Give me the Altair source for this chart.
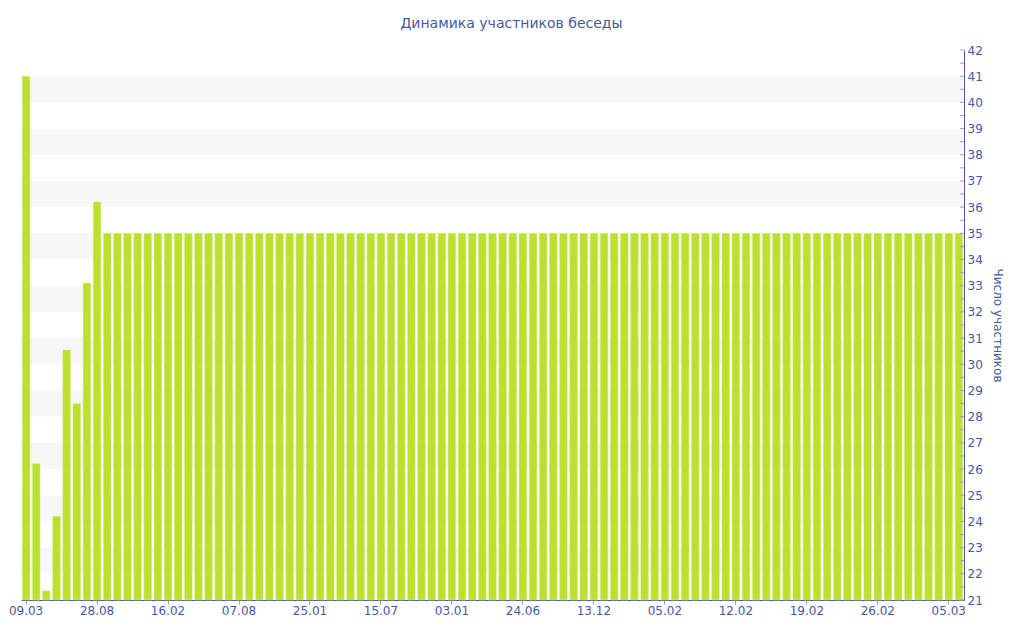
import altair as alt
import pandas as pd

# bar values (participants), one per bar, left to right
values = [41, 26.2, 21.35, 24.2, 30.55, 28.5, 33.1, 36.2,
          35, 35, 35, 35, 35, 35, 35, 35, 35, 35,
          35, 35, 35, 35, 35, 35, 35, 35, 35, 35,
          35, 35, 35, 35, 35, 35, 35, 35, 35, 35,
          35, 35, 35, 35, 35, 35, 35, 35, 35, 35,
          35, 35, 35, 35, 35, 35, 35, 35, 35, 35,
          35, 35, 35, 35, 35, 35, 35, 35, 35, 35,
          35, 35, 35, 35, 35, 35, 35, 35, 35, 35,
          35, 35, 35, 35, 35, 35, 35, 35, 35, 35,
          35, 35, 35, 35, 35]
# x tick labels, shown on every 7th bar
tick_labels = ["09.03", "28.08", "16.02", "07.08", "25.01", "15.07", "03.01",
               "24.06", "13.12", "05.02", "12.02", "19.02", "26.02", "05.03"]
label_step = 7

title_text = "Динамика участников беседы"
y_title = "Число участников"
y_min, y_max = 21, 42

W, H = 943, 550
BLUE = "#4559A4"
GREEN = "#BBE02E"
FONT = "DejaVu Sans"

df = pd.DataFrame({"i": list(range(len(values))), "v": values})
tick_idx = [k * label_step for k in range(len(tick_labels))]
label_expr = "[" + ",".join("'%s'" % t for t in tick_labels) + "][floor(datum.value/%d)]" % label_step

yscale = alt.Scale(domain=[y_min, y_max], nice=False, zero=False)
yaxis = alt.Axis(orient="right", values=list(range(y_min, y_max + 1)),
                 tickSize=0, domainColor=BLUE, labelColor=BLUE,
                 labelFont=FONT, labelFontSize=12, labelPadding=3,
                 grid=False, title=y_title, titleColor=BLUE,
                 titleFont=FONT, titleFontSize=12, titleFontWeight="normal",
                 titleAngle=90, titlePadding=8)

bands = alt.Chart(alt.sequence(22, 41, 2, as_="lo")).transform_calculate(
    hi="datum.lo + 1"
).mark_rect(color="#F7F7F7").encode(
    x=alt.value(0), x2=alt.value(W),
    y=alt.Y("lo:Q", scale=yscale, axis=yaxis),
    y2="hi:Q",
)

bars = alt.Chart(df).mark_bar(color=GREEN, stroke="#D8EE8A", strokeWidth=0.5).encode(
    x=alt.X("i:O", scale=alt.Scale(paddingInner=0.25, paddingOuter=0.125),
            axis=alt.Axis(values=tick_idx, labelExpr=label_expr, labelAngle=0,
                          title=None, domainColor=BLUE, tickColor="#A0A0A0",
                          tickSize=4, labelColor=BLUE, labelFont=FONT,
                          labelFontSize=12, labelPadding=1)),
    y=alt.Y("v:Q", scale=yscale, axis=yaxis),
    y2=alt.datum(y_min),
)

ticks = alt.Chart(alt.sequence(21, 42.01, 0.5, as_="t")).mark_rule(
    color="#A0A0A0", strokeWidth=1
).encode(
    x=alt.value(W - 4), x2=alt.value(W),
    y=alt.Y("t:Q", scale=yscale, axis=yaxis),
)

chart = alt.layer(bands, bars, ticks).properties(
    width=W, height=H,
    autosize=alt.AutoSizeParams(type="none"),
    padding={"left": 13, "top": 42, "right": 50, "bottom": 30},
    title=alt.TitleParams(title_text, color=BLUE, font=FONT, fontSize=14,
                          fontWeight="normal", offset=13, dx=19),
).configure_view(stroke=None).configure_axis(grid=False)

chart.save("out.html", embed_options={"renderer": "svg", "actions": False})
